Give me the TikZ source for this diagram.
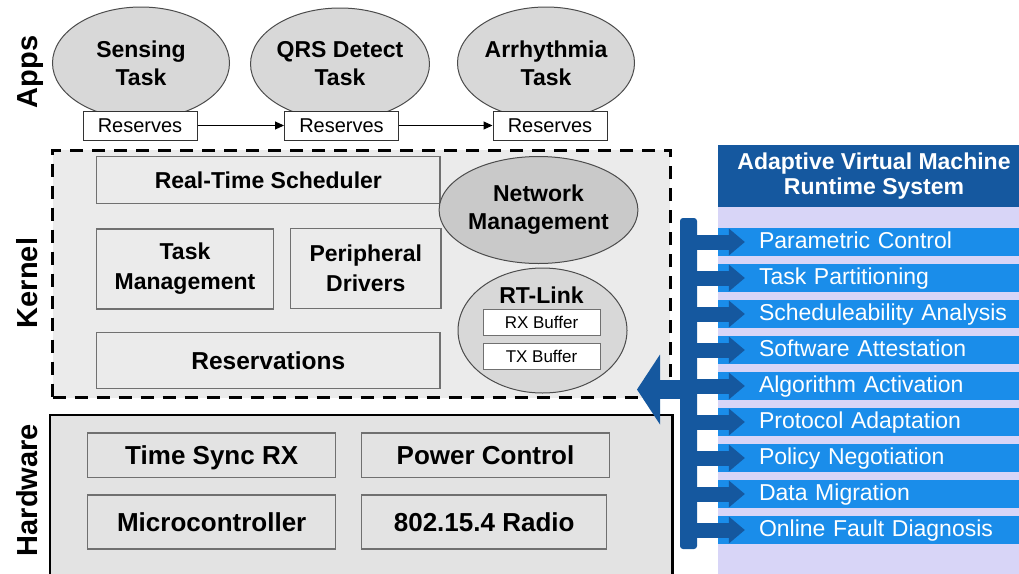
\documentclass[tikz,border=0pt]{standalone}
\usepackage{fontspec}
\setmainfont{Liberation Sans}
\usetikzlibrary{shapes.geometric,arrows.meta}
\definecolor{dkblue}{HTML}{15589F}
\definecolor{brblue}{HTML}{1A8DEA}
\definecolor{lav}{HTML}{D8D5F7}
\definecolor{kfill}{HTML}{EBEBEB}
\definecolor{hfill}{HTML}{E3E3E3}
\definecolor{bline}{HTML}{707070}
\definecolor{efill}{HTML}{D8D8D8}
\definecolor{nfill}{HTML}{C9C9C9}
\begin{document}
\begin{tikzpicture}[x=1pt,y=-1pt,
  side/.style={font=\fontsize{29}{30}\selectfont\bfseries, rotate=90, inner sep=0pt, text height=21pt, text depth=6pt},
  appell/.style={ellipse, draw=black!70, line width=1pt, fill=efill, minimum width=177pt, minimum height=112pt, inner sep=0pt, align=center, font=\fontsize{23}{28}\selectfont\bfseries},
  resbox/.style={draw=black!80, line width=1pt, fill=white, minimum width=114pt, minimum height=29pt, inner sep=0pt, font=\fontsize{20}{22}\selectfont},
  kbox/.style={draw=bline, line width=1.2pt, fill=kfill, inner sep=0pt, align=center, font=\fontsize{23}{30}\selectfont\bfseries},
  hbox/.style={draw=bline, line width=1.2pt, fill=hfill, inner sep=0pt, text height=19pt, text depth=0.5pt, font=\fontsize{26}{30}\selectfont\bfseries},
  buf/.style={draw=bline, line width=1pt, fill=white, minimum width=117pt, minimum height=26pt, inner sep=0pt, font=\fontsize{17}{20}\selectfont},
  listbar/.style={fill=brblue, minimum width=312pt, minimum height=28pt, inner sep=0pt, text width=312pt, text height=16.5pt, text depth=4.5pt, align=left, text=white, font=\fontsize{23}{26}\selectfont},
  rarrow/.style={dkblue, line width=15pt, -{Triangle[width=27pt,length=16pt,line width=0pt]}},
]
\useasboundingbox (0,0) rectangle (1019,573);
\clip (0,0) rectangle (1019,573);
\fill[white] (0,0) rectangle (1019,573);

% right panel
\fill[lav] (718,205) rectangle (1030,580);
\node[fill=dkblue, minimum width=312pt, minimum height=62pt, inner sep=0pt, text=white, align=center,
      font=\fontsize{23}{25}\selectfont\bfseries] (hdr) at (874,176) {Adaptive Virtual Machine\\Runtime System};
\node[listbar] (b1) at (874,242) {\hspace*{41pt}Parametric Control};
\node[listbar] (b2) at (874,278) {\hspace*{41pt}Task Partitioning};
\node[listbar] (b3) at (874,314) {\hspace*{41pt}Scheduleability Analysis};
\node[listbar] (b4) at (874,350) {\hspace*{41pt}Software Attestation};
\node[listbar] (b5) at (874,386) {\hspace*{41pt}Algorithm Activation};
\node[listbar] (b6) at (874,422) {\hspace*{41pt}Protocol Adaptation};
\node[listbar] (b7) at (874,458) {\hspace*{41pt}Policy Negotiation};
\node[listbar] (b8) at (874,494) {\hspace*{41pt}Data Migration};
\node[listbar] (b9) at (874,530) {\hspace*{41pt}Online Fault Diagnosis};

% side labels
\node[side] (lapps) at (30,72) {Apps};
\node[side] (lkern) at (30,283) {Kernel};
\node[side] (lhw) at (30,490) {Hardware};

% kernel
\node[draw=black, fill=kfill, line width=3pt, dash pattern=on 13pt off 9pt, minimum width=617.3pt, minimum height=247.7pt, inner sep=0pt] (kernel) at (361.35,273.85) {};
\node[kbox, minimum width=343.3pt, minimum height=46.6pt] (rts) at (268.35,180) {Real-Time Scheduler};
\node[kbox, minimum width=176.6pt, minimum height=80pt] (tm) at (185,269) {Task\\Management};
\node[kbox, minimum width=150.3pt, minimum height=80pt] (pd) at (365.85,268.5) {Peripheral\\Drivers};
\node[kbox, minimum width=343.3pt, minimum height=55.6pt, font=\fontsize{24.5}{28}\selectfont\bfseries] (resv) at (268.35,360.5) {Reservations};
\node[ellipse, draw=black!70, line width=1pt, fill=nfill, minimum width=185pt, minimum height=107pt, inner sep=0pt, align=center,
      font=\fontsize{23}{28}\selectfont\bfseries] (nm) at (538.5,210) {Network\\Management};
\node[ellipse, draw=black!70, line width=1pt, fill=efill, minimum width=169pt, minimum height=125pt, inner sep=0pt] (rtl) at (542.5,330.5) {};
\node[inner sep=0pt, font=\fontsize{23}{26}\selectfont\bfseries] (rtlt) at (541.5,295) {RT-Link};
\node[buf] (rx) at (541.5,322.5) {RX Buffer};
\node[buf] (tx) at (541.5,356) {TX Buffer};

% hardware
\node[draw=black, fill=hfill, line width=2.5pt, minimum width=622.3pt, minimum height=175pt, inner sep=0pt] (hw) at (361.15,502.5) {};
\node[hbox, minimum width=248pt, minimum height=44.7pt] (ts) at (211.7,455.35) {Time Sync RX};
\node[hbox, minimum width=247.6pt, minimum height=44.7pt] (pc) at (485.5,455.35) {Power Control};
\node[hbox, minimum width=248pt, minimum height=54pt] (mc) at (211.7,522) {Microcontroller};
\node[hbox, minimum width=245pt, minimum height=54pt] (radio) at (484.2,522) {802.15.4 Radio};

% apps
\node[appell] (sens) at (141,63) {Sensing\\Task};
\node[appell] (qrs) at (340,64) {QRS Detect\\Task};
\node[appell] (arr) at (546,63) {Arrhythmia\\Task};
\node[resbox] (r1) at (140,125.5) {Reserves};
\node[resbox] (r2) at (341.5,125.5) {Reserves};
\node[resbox] (r3) at (550,125.5) {Reserves};
\draw[line width=1pt, -{Triangle[width=8pt,length=9pt]}] (r1) -- (r2);
\draw[line width=1pt, -{Triangle[width=8pt,length=9pt]}] (r2) -- (r3);

% blue arrows
\node[fill=dkblue, rounded corners=3pt, minimum width=17pt, minimum height=331pt, inner sep=0pt] (vbar) at (688.5,383.5) {};
\foreach \k in {1,...,9}{
  \draw[rarrow] (vbar.east |- b\k.west) -- ([xshift=27pt]b\k.west);
}
\coordinate (bigtip) at (637,389.5);
\draw[dkblue, line width=19pt, -{Triangle[width=70pt,length=23pt,line width=0pt]}] (vbar.west |- bigtip) -- (bigtip);
\end{tikzpicture}
\end{document}
